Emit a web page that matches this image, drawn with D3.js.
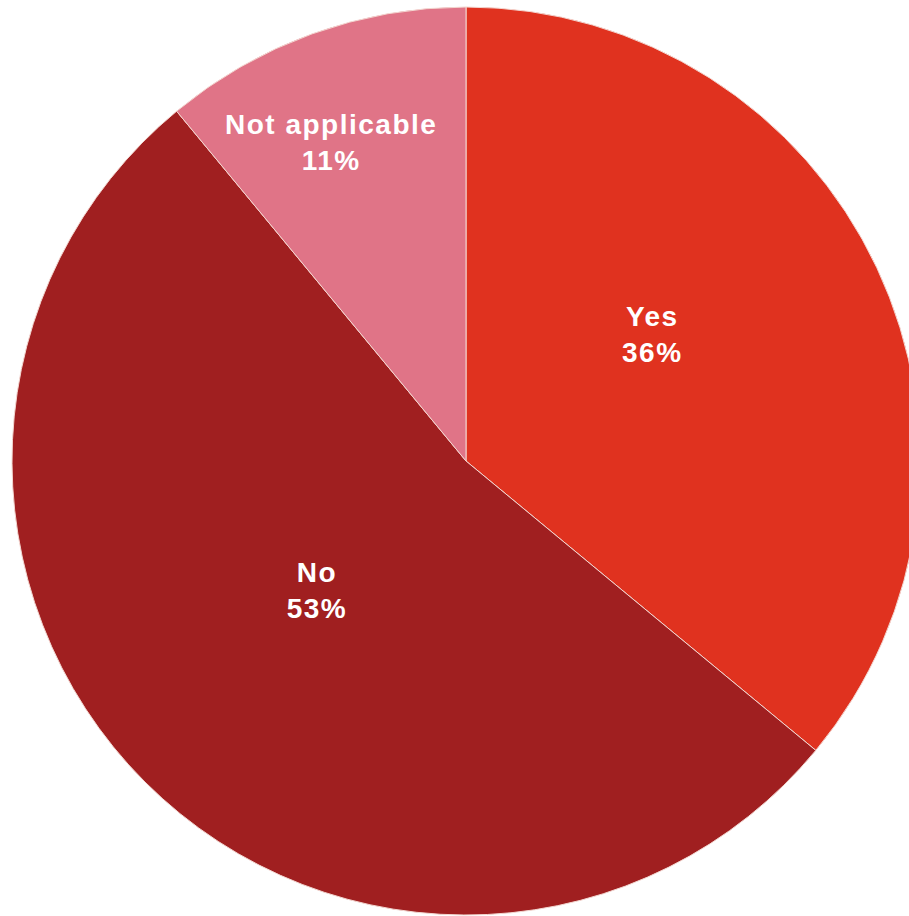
<!DOCTYPE html>
<html>
<head>
<meta charset="utf-8">
<script src="https://cdn.jsdelivr.net/npm/d3@7"></script>
<style>
html,body{margin:0;padding:0;background:#fff;}
.lbl{font-family:"Liberation Sans",Arial,sans-serif;font-weight:bold;font-size:28px;letter-spacing:1.5px;fill:#fff;}
</style>
</head>
<body>
<div id="chart"></div>
<script>
// data
var categories=["Yes","No","Not applicable"];
var shares=[36,53,11];
var colors=["#e0321f","#a01f20","#e07487"];

// label placement (angle in degrees from 12 o'clock, radius as fraction of pie radius)
var labelAngle=[56,229,337];
var labelRadius=[0.495,0.435,0.76];

var width=909, height=916;
var cx=466, cy=461, radius=454;

var svg=d3.select("#chart").append("svg")
  .attr("width",width)
  .attr("height",height);

var g=svg.append("g").attr("transform","translate("+cx+","+cy+")");

var data=categories.map(function(c,i){return {name:c,value:shares[i],i:i};});

var pie=d3.pie().sort(null).value(function(d){return d.value;});
var arc=d3.arc().innerRadius(0).outerRadius(radius);

g.selectAll("path.slice")
  .data(pie(data))
  .enter()
  .append("path")
  .attr("class","slice")
  .attr("d",arc)
  .attr("fill",function(d){return colors[d.data.i];})
  .attr("stroke","#f3d6d0")
  .attr("stroke-width",1);

var labels=g.selectAll("g.lab")
  .data(data)
  .enter()
  .append("g")
  .attr("class","lab")
  .attr("transform",function(d){
    var a=labelAngle[d.i]*Math.PI/180, r=labelRadius[d.i]*radius;
    return "translate("+(r*Math.sin(a))+","+(-r*Math.cos(a))+")";
  });

labels.append("text")
  .attr("class","lbl")
  .attr("text-anchor","middle")
  .attr("y",-9)
  .text(function(d){return d.name;});
labels.append("text")
  .attr("class","lbl")
  .attr("text-anchor","middle")
  .attr("y",27)
  .text(function(d){return d.value+"%";});
</script>
</body>
</html>
